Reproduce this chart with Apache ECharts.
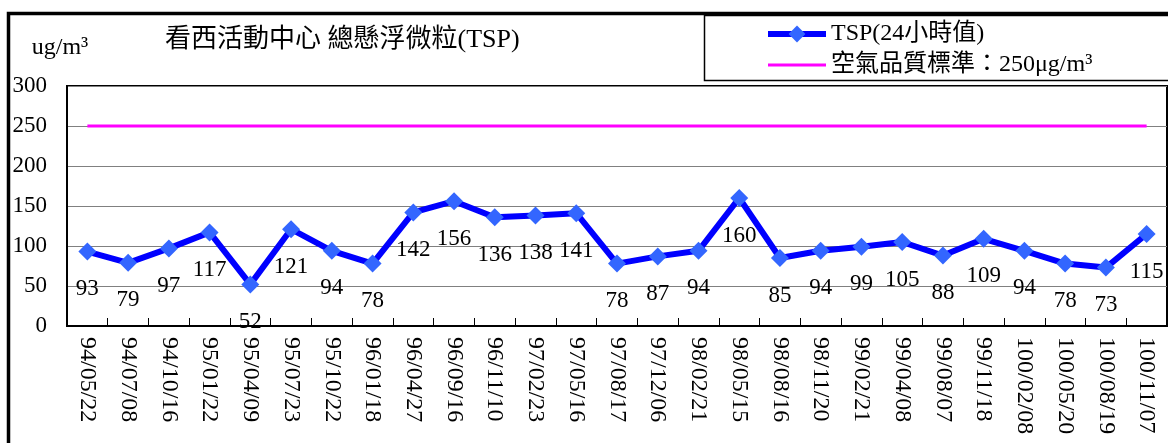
<!DOCTYPE html>
<html>
<head>
<meta charset="utf-8">
<script src="https://cdn.jsdelivr.net/npm/echarts@6/dist/echarts.min.js"></script>
<style>
html,body{margin:0;padding:0;background:#fff;}
#chart{width:1168px;height:443px;}
</style>
</head>
<body>
<div id="chart"></div>
<script>
const titleText = '看西活動中心 總懸浮微粒(TSP)';
const unitText = 'ug/m³';
const dates = ['94/05/22','94/07/08','94/10/16','95/01/22','95/04/09','95/07/23','95/10/22','96/01/18','96/04/27','96/09/16','96/11/10','97/02/23','97/05/16','97/08/17','97/12/06','98/02/21','98/05/15','98/08/16','98/11/20','99/02/21','99/04/08','99/08/07','99/11/18','100/02/08','100/05/20','100/08/19','100/11/07'];
const tspValues = [93,79,97,117,52,121,94,78,142,156,136,138,141,78,87,94,160,85,94,99,105,88,109,94,78,73,115];
const standardValue = 250;
const seriesNames = ['TSP(24小時值)', '空氣品質標準：250μg/m³'];
const yTicks = {min: 0, max: 300, interval: 50};

const SERIF = '"Liberation Serif", "Times New Roman", "Noto Sans CJK TC", serif';
const chart = echarts.init(document.getElementById('chart'), null, {renderer: 'canvas'});
chart.setOption({
  animation: false,
  backgroundColor: '#fff',
  title: {
    text: titleText,
    left: 160,
    top: 22,
    textStyle: {fontFamily: SERIF, fontSize: 26, fontWeight: 'normal', color: '#000'}
  },
  legend: {
    orient: 'vertical',
    left: 765,
    top: 22,
    padding: 0,
    itemWidth: 58,
    itemHeight: 21,
    itemGap: 7,
    data: [
      {name: seriesNames[0], lineStyle: {width: 6, color: '#0000FF'}},
      {name: seriesNames[1], lineStyle: {width: 3, color: '#FF00FF'}, itemStyle: {opacity: 0}}
    ],
    textStyle: {fontFamily: SERIF, fontSize: 24, color: '#000'}
  },
  graphic: [
    {type: 'rect', shape: {x: 8.5, y: 13.5, width: 1250, height: 600}, style: {fill: 'none', stroke: '#000', lineWidth: 3.5}, silent: true},
    {type: 'rect', shape: {x: 704.5, y: 15.5, width: 500, height: 65}, style: {fill: 'none', stroke: '#000', lineWidth: 1.5}, silent: true}
  ],
  grid: {
    left: 67, right: 1, top: 86, bottom: 117,
    show: true, borderColor: '#000', borderWidth: 2, backgroundColor: 'transparent'
  },
  xAxis: {
    type: 'category',
    data: dates,
    boundaryGap: true,
    axisLine: {show: true, lineStyle: {color: '#000', width: 2}},
    axisTick: {show: true, inside: true, length: 8, lineStyle: {color: '#000', width: 1}},
    axisLabel: {interval: 0, rotate: -90, margin: 11, fontFamily: SERIF, fontSize: 24, color: '#000'}
  },
  yAxis: {
    type: 'value',
    min: yTicks.min, max: yTicks.max, interval: yTicks.interval,
    name: unitText,
    nameLocation: 'end',
    nameGap: 38,
    nameTextStyle: {fontFamily: SERIF, fontSize: 24, color: '#000', align: 'center', verticalAlign: 'middle', padding: [0, 14, 0, 0]},
    axisLine: {show: true, lineStyle: {color: '#000', width: 2}},
    axisTick: {show: false},
    axisLabel: {margin: 20, fontFamily: SERIF, fontSize: 23, color: '#000'},
    splitLine: {show: true, lineStyle: {color: '#808080', width: 1}}
  },
  series: [
    {
      name: seriesNames[0],
      type: 'line',
      data: tspValues,
      z: 3,
      symbol: 'diamond',
      symbolSize: 18,
      lineStyle: {color: '#0000FF', width: 6},
      itemStyle: {color: '#3366FF'},
      label: {show: true, position: 'bottom', distance: 17, fontFamily: SERIF, fontSize: 23, color: '#000'}
    },
    {
      name: seriesNames[1],
      type: 'line',
      data: dates.map(() => standardValue),
      z: 2,
      symbol: 'none',
      lineStyle: {color: '#FF00FF', width: 3},
      itemStyle: {color: '#FF00FF'}
    }
  ]
});
</script>
</body>
</html>
